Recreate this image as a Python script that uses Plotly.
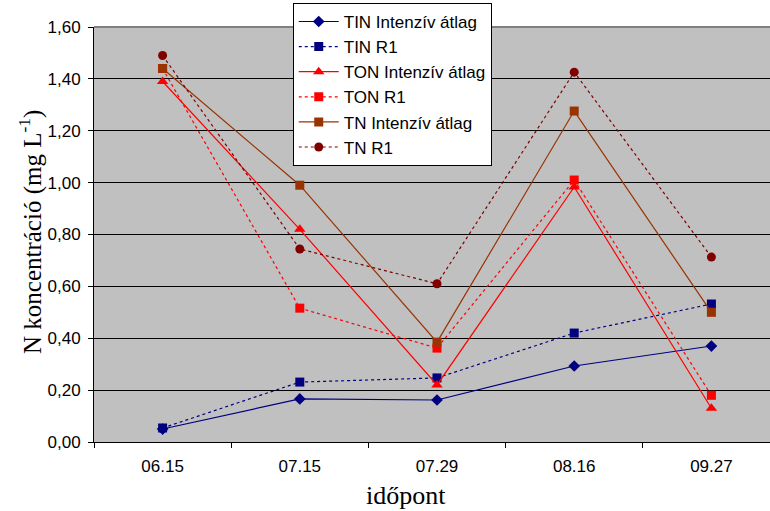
import plotly.graph_objects as go

dates = ["06.15", "07.15", "07.29", "08.16", "09.27"]
tin_avg = [0.05, 0.166, 0.162, 0.293, 0.37]
tin_r1 = [0.054, 0.231, 0.247, 0.42, 0.532]
ton_avg = [1.39, 0.82, 0.22, 0.983, 0.13]
ton_r1 = [1.44, 0.516, 0.362, 1.01, 0.18]
tn_avg = [1.44, 0.99, 0.385, 1.276, 0.50]
tn_r1 = [1.49, 0.744, 0.61, 1.426, 0.713]

series = [
    ("TIN Intenzív átlag", tin_avg, "#000080", "solid", "diamond", 9),
    ("TIN R1", tin_r1, "#000080", "dot", "square", 9),
    ("TON Intenzív átlag", ton_avg, "#FF0000", "solid", "triangle-up", 10),
    ("TON R1", ton_r1, "#FF0000", "dot", "square", 9),
    ("TN Intenzív átlag", tn_avg, "#993300", "solid", "square", 9),
    ("TN R1", tn_r1, "#800000", "dot", "circle", 9),
]

fig = go.Figure()
for name, vals, color, dash, sym, size in series:
    fig.add_trace(go.Scatter(
        x=dates, y=vals, name=name, mode="lines+markers",
        line=dict(color=color, width=1.2, dash=dash),
        marker=dict(symbol=sym, size=size, color=color),
    ))

fig.update_layout(
    width=770, height=511,
    margin=dict(l=94, r=0, t=27, b=69),
    paper_bgcolor="white", plot_bgcolor="#C0C0C0",
    separators=", ",
    font=dict(family="Liberation Sans, Arial", size=17, color="black"),
    showlegend=True,
    legend=dict(
        x=0.294, y=1.058, xanchor="left", yanchor="top",
        bgcolor="white", bordercolor="black", borderwidth=1,
        font=dict(family="Liberation Sans, Arial", size=17, color="black"),
        itemwidth=40, tracegroupgap=0,
    ),
    xaxis=dict(
        type="category", range=[-0.5, 4.427],
        tickson="boundaries", ticks="outside", ticklen=5, tickcolor="black",
        showgrid=False, showline=True, linecolor="black", linewidth=1,
        tickfont=dict(size=17), ticklabelstandoff=9,
    ),
    yaxis=dict(
        range=[0, 1.6], tickvals=[0, 0.2, 0.4, 0.6, 0.8, 1.0, 1.2, 1.4, 1.6],
        tickformat=".2f", ticks="outside", ticklen=5, tickcolor="black",
        showgrid=True, gridcolor="black", gridwidth=1,
        showline=True, linecolor="black", linewidth=1, zeroline=False,
        tickfont=dict(size=17), ticklabelstandoff=4,
    ),
    annotations=[
        dict(text="időpont", xref="paper", yref="paper",
             x=(406 - 94) / 676, y=(442 - 495) / 415, xanchor="center", yanchor="middle",
             showarrow=False, font=dict(family="Liberation Serif, Times New Roman", size=26)),
        dict(text="N koncentráció (mg L<sup>-1</sup>)", xref="paper", yref="paper",
             x=(30 - 94) / 676, y=(442 - 232) / 415, xanchor="center", yanchor="middle",
             textangle=-90, showarrow=False,
             font=dict(family="Liberation Serif, Times New Roman", size=25)),
    ],
)
fig.add_shape(type="line", xref="paper", yref="paper", x0=0, x1=1, y0=1, y1=1,
              line=dict(color="#808080", width=2), layer="above")

fig.write_html("out.html")
